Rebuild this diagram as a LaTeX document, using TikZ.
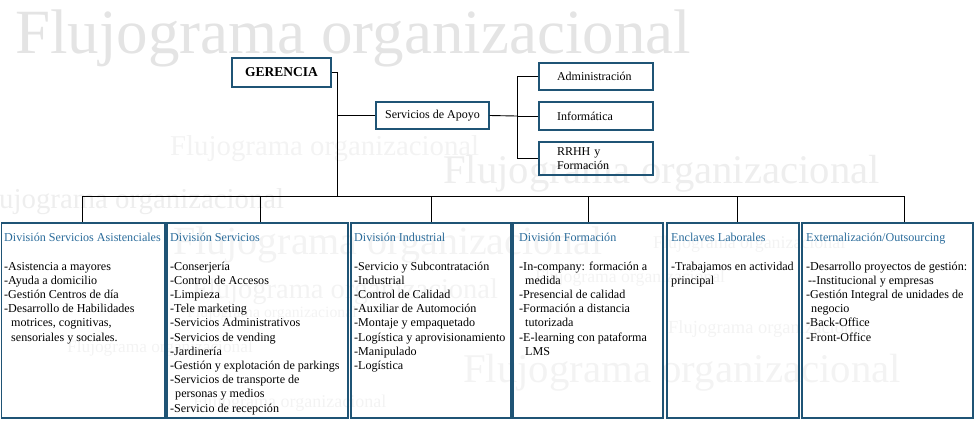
\documentclass[tikz,border=0pt]{standalone}
\usepackage{fontspec}
\setmainfont{Liberation Serif}
\definecolor{boxblue}{HTML}{1F5475}
\definecolor{ttlblue}{HTML}{2B6C9B}
\definecolor{wmA}{HTML}{E4E4E4}
\definecolor{wmB}{HTML}{EEEEEE}
\definecolor{wmC}{HTML}{F3F3F3}
\tikzset{
  wm/.style 2 args={anchor=base west, inner sep=0pt, text=#2, font=\fontsize{#1}{#1}\selectfont},
  topbox/.style={draw=boxblue, line width=1.2pt, inner sep=0pt, font=\fontsize{12}{14.3}\selectfont},
  leftbox/.style={topbox, inner xsep=18pt, text width=78pt, align=left, minimum width=114pt},
  divbox/.style={draw=boxblue, line width=1.2pt, inner sep=0pt, minimum height=195pt},
  itm/.style={anchor=base west, inner sep=0pt, font=\fontsize{12.1}{14.2}\selectfont},
  ttl/.style={itm, text=ttlblue},
  conn/.style={draw=black, line width=0.9pt},
}
\begin{document}
\begin{tikzpicture}[x=1pt,y=-1pt]
\useasboundingbox (0,0) rectangle (979,440);
% watermarks
\node[wm={63}{wmA}] (w1) at (15,53) {Flujograma organizacional};
\node[wm={28.8}{wmC}] (w2) at (170,155) {Flujograma organizacional};
\node[wm={40.7}{wmB}] (w3) at (443,183) {Flujograma organizacional};
\node[wm={28.8}{wmB}] (w4) at (-25,208) {Flujograma organizacional};
\node[wm={40}{wmC}] (w5) at (173,254) {Flujograma organizacional};
\node[wm={28.5}{wmC}] (w6) at (192,298) {Flujograma organizacional};
\node[wm={15.8}{wmC}] (w7) at (187,317) {Flujograma organizacional};
\node[wm={17.3}{wmC}] (w8) at (67,352) {Flujograma organizacional};
\node[wm={18}{wmC}] (w9) at (193,407) {Flujograma organizacional};
\node[wm={40.8}{wmC}] (w10) at (463,382) {Flujograma organizacional};
\node[wm={17.9}{wmC}] (w11) at (653,248) {Flujograma organizacional};
\node[wm={17.7}{wmC}] (w12) at (535,282) {Flujograma organizacional};
\node[wm={18.5}{wmC}] (w13) at (668,333) {Flujograma organizacional};

% top boxes
\node[topbox, minimum width=99pt, minimum height=29pt, font=\fontsize{13.5}{14}\selectfont\bfseries] (ger) at (281.5,72.5) {GERENCIA};
\node[topbox, minimum width=113pt, minimum height=27pt] (sa) at (432.5,115.5) {Servicios de Apoyo};
\node[leftbox, minimum height=27pt] (adm) at (596,76.5) {Administración};
\node[leftbox, minimum height=28pt] (inf) at (596,116) {Informática};
\node[leftbox, minimum height=33pt] (rrhh) at (596,158.5) {RRHH y\\Formación};

% division boxes
\node[divbox, minimum width=163.5pt] (d1) at (83.25,320.5) {};
\node[divbox, minimum width=181pt] (d2) at (257.5,320.5) {};
\node[divbox, minimum width=160pt] (d3) at (431,320.5) {};
\node[divbox, minimum width=150pt] (d4) at (588,320.5) {};
\node[divbox, minimum width=132pt] (d5) at (733,320.5) {};
\node[divbox, minimum width=171pt] (d6) at (887.5,320.5) {};

% connectors
\coordinate (j1) at (337,196);
\coordinate (j2) at (517,116);
\coordinate (b1) at (82,196);
\coordinate (b2) at (260,196);
\coordinate (b3) at (431,196);
\coordinate (b4) at (588,196);
\coordinate (b5) at (737,196);
\coordinate (b6) at (904,196);
\draw[conn] (ger.east) -| (j1);
\draw[conn] (j1 |- sa.west) -- (sa.west);
\draw[conn] (sa.east) -- (j2);
\draw[conn] (adm.west) -| (j2 |- rrhh.west) -- (rrhh.west);
\draw[conn] (j2) -- (inf.west);
\draw[conn] (b1) -- (b6);
\draw[conn] (b1) -- (b1 |- d1.north);
\draw[conn] (b2) -- (b2 |- d2.north);
\draw[conn] (b3) -- (b3 |- d3.north);
\draw[conn] (b4) -- (b4 |- d4.north);
\draw[conn] (b5) -- (b5 |- d5.north);
\draw[conn] (b6) -- (b6 |- d6.north);

% division texts
\node[ttl] (t1) at (4,241) {División Servicios Asistenciales};
\foreach \t [count=\i] in {-Asistencia a mayores, -Ayuda a domicilio, -Gestión Centros de día, -Desarrollo de Habilidades, {\hspace*{7pt}motrices, cognitivas,}, {\hspace*{7pt}sensoriales y sociales.}}
  \node[itm] (l1-\i) at (4,255.8+14.2*\i) {\t};

\node[ttl] (t2) at (170,241) {División Servicios};
\foreach \t [count=\i] in {-Conserjería, -Control de Accesos, -Limpieza, -Tele marketing, -Servicios Administrativos, -Servicios de vending, -Jardinería, -Gestión y explotación de parkings, -Servicios de transporte de, {\hspace*{5pt}personas y medios}, -Servicio de recepción}
  \node[itm] (l2-\i) at (170,255.8+14.2*\i) {\t};

\node[ttl] (t3) at (354,241) {División Industrial};
\foreach \t [count=\i] in {-Servicio y Subcontratación, -Industrial, -Control de Calidad, -Auxiliar de Automoción, -Montaje y empaquetado, -Logística y aprovisionamiento, -Manipulado, -Logística}
  \node[itm] (l3-\i) at (354,255.8+14.2*\i) {\t};

\node[ttl] (t4) at (519,241) {División Formación};
\foreach \t [count=\i] in {-In-company: formación a, {\hspace*{6pt}medida}, -Presencial de calidad, -Formación a distancia, {\hspace*{6pt}tutorizada}, -E-learning con pataforma, {\hspace*{6pt}LMS}}
  \node[itm] (l4-\i) at (519,255.8+14.2*\i) {\t};

\node[ttl] (t5) at (671,241) {Enclaves Laborales};
\foreach \t [count=\i] in {-Trabajamos en actividad, principal}
  \node[itm] (l5-\i) at (671,255.8+14.2*\i) {\t};

\node[ttl] (t6) at (806,241) {Externalización/Outsourcing};
\foreach \t [count=\i] in {-Desarrollo proyectos de gestión:, {\hspace*{2pt}-{}-Institucional y empresas}, -Gestión Integral de unidades de, {\hspace*{5pt}negocio}, -Back-Office, -Front-Office}
  \node[itm] (l6-\i) at (806,255.8+14.2*\i) {\t};
\end{tikzpicture}
\end{document}
